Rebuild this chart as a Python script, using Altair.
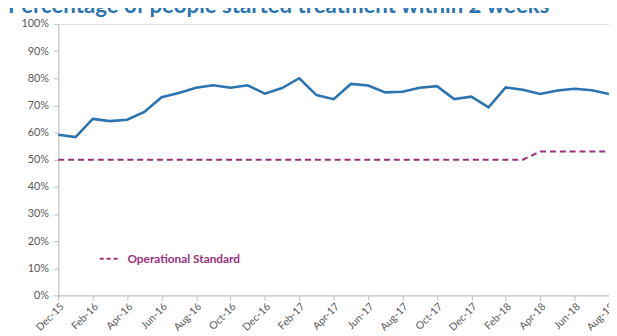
import altair as alt
import pandas as pd

months = ["Dec-15", "Jan-16", "Feb-16", "Mar-16", "Apr-16", "May-16", "Jun-16", "Jul-16",
          "Aug-16", "Sep-16", "Oct-16", "Nov-16", "Dec-16", "Jan-17", "Feb-17", "Mar-17",
          "Apr-17", "May-17", "Jun-17", "Jul-17", "Aug-17", "Sep-17", "Oct-17", "Nov-17",
          "Dec-17", "Jan-18", "Feb-18", "Mar-18", "Apr-18", "May-18", "Jun-18", "Jul-18",
          "Aug-18"]
performance = [59.2, 58.3, 65.0, 64.2, 64.7, 67.6, 73.0, 74.6, 76.5, 77.4, 76.5, 77.4,
               74.3, 76.4, 80.0, 73.8, 72.3, 77.9, 77.3, 74.8, 75.0, 76.5, 77.1, 72.3,
               73.2, 69.3, 76.6, 75.8, 74.2, 75.5, 76.1, 75.6, 74.2]
standard = [50] * 28 + [53] * 5
y_ticks = list(range(0, 101, 10))
x_labels = months[::2]
title_text = "Percentage of people started treatment within 2 weeks"
legend_label = "Operational Standard"

BLUE = "#2a74b1"
PURPLE = "#9b2f7d"
GREY = "#595959"
FONT = "Lato"

df = pd.DataFrame({
    "month": months,
    "performance": performance,
    "standard": standard,
    "series": [legend_label] * len(months),
})

x_axis = alt.Axis(
    values=x_labels, title=None, labelAngle=-45, labelAlign="right",
    labelBaseline="top", labelFont=FONT, labelFontSize=10.5, labelColor=GREY,
    domainColor="#bfbfbf", tickColor="#bfbfbf", tickSize=5, labelPadding=1,
    labelOverlap=False, labelFlush=False, labelBound=False,
)
y_axis = alt.Axis(
    values=y_ticks, labelExpr="datum.value + '%'", title=None, grid=False,
    labelFont=FONT, labelFontSize=11, labelColor=GREY,
    domainColor="#bfbfbf", tickColor="#bfbfbf", tickSize=5, labelPadding=5,
    labelOverlap=False, labelFlush=False, labelBound=False,
)
x_scale = alt.Scale(type="point", padding=0)
y_scale = alt.Scale(domain=[0, 100], nice=False)

perf = alt.Chart(df).mark_line(color=BLUE, strokeWidth=2.6).encode(
    x=alt.X("month:N", sort=months, scale=x_scale, axis=x_axis),
    y=alt.Y("performance:Q", scale=y_scale, axis=y_axis),
)

std = alt.Chart(df).mark_line(strokeWidth=2, strokeDash=[6, 4]).encode(
    x=alt.X("month:N", sort=months, scale=x_scale, axis=x_axis),
    y=alt.Y("standard:Q", scale=y_scale, axis=y_axis),
    color=alt.Color(
        "series:N",
        scale=alt.Scale(domain=[legend_label], range=[PURPLE]),
        legend=alt.Legend(
            orient="none", legendX=41, legendY=227, title=None,
            symbolType="stroke", symbolDash=[4, 3], symbolStrokeWidth=2,
            symbolSize=400, labelFont=FONT, labelFontSize=12,
            labelFontWeight="bold", labelColor=PURPLE, labelOffset=7,
        ),
    ),
)

title = alt.Chart(pd.DataFrame({"t": [title_text]})).mark_text(
    align="left", baseline="alphabetic", font=FONT, fontSize=22.5,
    fontWeight="bold", color=BLUE,
).encode(x=alt.value(-51), y=alt.value(-11), text="t:N")

chart = alt.layer(perf, std, title).properties(
    width=558, height=275,
    autosize=alt.AutoSizeParams(type="none"),
    padding={"left": 51, "top": 14, "right": 0, "bottom": 38},
).configure_view(stroke=None).configure(background="white")

chart.save("out.html", embed_options={"renderer": "svg", "actions": False})
